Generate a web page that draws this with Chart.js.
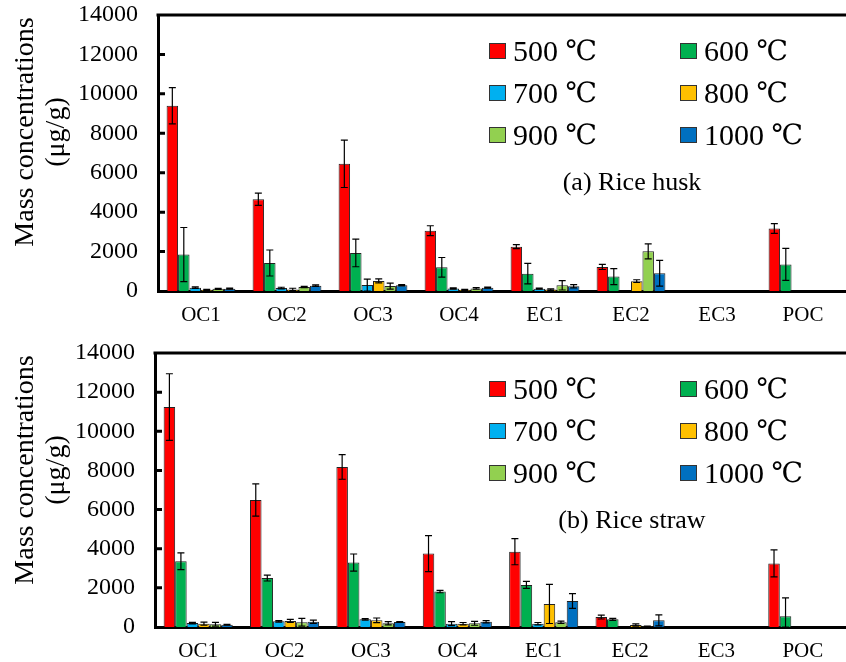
<!DOCTYPE html>
<html>
<head>
<meta charset="utf-8">
<script src="https://cdn.jsdelivr.net/npm/chart.js@4.4.0/dist/chart.umd.min.js"></script>
<style>
  html, body { margin: 0; padding: 0; background: #fff; }
  .panel { position: absolute; left: 0; width: 846px; height: 331px; }
</style>
</head>
<body>
<div class="panel" style="top:0"><canvas id="husk"></canvas></div>
<div class="panel" style="top:331px"><canvas id="straw"></canvas></div>
<script>
const categories = ['OC1', 'OC2', 'OC3', 'OC4', 'EC1', 'EC2', 'EC3', 'POC'];
const temps = ['500 ℃', '600 ℃', '700 ℃', '800 ℃', '900 ℃', '1000 ℃'];
const yTicks = [0, 2000, 4000, 6000, 8000, 10000, 12000, 14000];

// (a) Rice husk
const husk500 = [9400, 4650, 6450, 3060, 2250, 1220, 0, 3170];
const husk600 = [1850, 1420, 1930, 1200, 880, 730, 0, 1350];
const husk700 = [170, 150, 300, 130, 120, 0, 0, 0];
const husk800 = [60, 80, 510, 60, 70, 500, 0, 0];
const husk900 = [110, 200, 250, 130, 290, 2010, 0, 0];
const husk1000 = [120, 270, 290, 170, 240, 900, 0, 0];
const husk500Err = [920, 310, 1200, 250, 100, 130, 0, 250];
const husk600Err = [1370, 660, 700, 500, 520, 410, 0, 810];
const husk700Err = [40, 40, 300, 30, 30, 0, 0, 0];
const husk800Err = [30, 60, 100, 30, 40, 70, 0, 0];
const husk900Err = [30, 30, 150, 40, 240, 380, 0, 0];
const husk1000Err = [30, 40, 30, 30, 80, 650, 0, 0];

// (b) Rice straw
const straw500 = [11240, 6490, 8180, 3750, 3850, 510, 0, 3250];
const straw600 = [3360, 2500, 3290, 1810, 2150, 390, 0, 550];
const straw700 = [200, 290, 390, 170, 170, 0, 0, 0];
const straw800 = [170, 310, 340, 170, 1180, 100, 0, 0];
const straw900 = [140, 240, 190, 190, 240, 30, 0, 0];
const straw1000 = [120, 270, 250, 270, 1330, 340, 0, 0];
const straw500Err = [1700, 820, 630, 920, 670, 100, 0, 690];
const straw600Err = [430, 150, 440, 60, 180, 50, 0, 940];
const straw700Err = [40, 40, 40, 100, 60, 0, 0, 0];
const straw800Err = [80, 80, 120, 60, 1000, 60, 0, 0];
const straw900Err = [100, 200, 80, 100, 60, 20, 0, 0];
const straw1000Err = [20, 80, 20, 60, 380, 280, 0, 0];

const colors = ['#FF0000', '#00B050', '#00B0F0', '#FFC000', '#92D050', '#0070C0'];
const serif = "'Liberation Serif', 'Times New Roman', serif";
const degFont = "'DejaVu Serif', serif";

// error bars drawn on top of the bars
const errorBars = {
    id: 'errorBars',
    afterDatasetsDraw(chart) {
        const ctx = chart.ctx;
        const y = chart.scales.y;
        ctx.save();
        ctx.strokeStyle = '#000';
        ctx.lineWidth = 1.2;
        chart.data.datasets.forEach((ds, i) => {
            chart.getDatasetMeta(i).data.forEach((bar, j) => {
                const e = ds.errors[j];
                if (!e) return;
                const v = ds.data[j];
                const y1 = y.getPixelForValue(v + e);
                const y2 = y.getPixelForValue(Math.max(v - e, 0));
                ctx.beginPath();
                ctx.moveTo(bar.x, y1); ctx.lineTo(bar.x, y2);
                ctx.moveTo(bar.x - 3.5, y1); ctx.lineTo(bar.x + 3.5, y1);
                ctx.moveTo(bar.x - 3.5, y2); ctx.lineTo(bar.x + 3.5, y2);
                ctx.stroke();
            });
        });
        ctx.restore();
    }
};

function panelDecor(subtitle) {
    return {
        id: 'panelDecor',
        afterDraw(chart) {
            const ctx = chart.ctx;
            const a = chart.chartArea;
            const y = chart.scales.y;
            ctx.save();
            // top frame line and inward ticks
            ctx.strokeStyle = '#000';
            ctx.lineWidth = 3;
            ctx.beginPath();
            ctx.moveTo(a.left - 1.5, a.top); ctx.lineTo(a.right, a.top);
            y.ticks.forEach(t => {
                if (t.value <= 0 || t.value >= y.max) return;
                const py = y.getPixelForValue(t.value);
                ctx.moveTo(a.left, py); ctx.lineTo(a.left + 7, py);
            });
            ctx.stroke();

            // legend, 3 rows x 2 columns
            ctx.textBaseline = 'middle';
            ctx.textAlign = 'left';
            chart.data.datasets.forEach((ds, i) => {
                const col = i % 2, row = Math.floor(i / 2);
                const sx = col ? 680 : 489;
                const sy = a.top + 36 + row * 42;
                ctx.fillStyle = ds.backgroundColor;
                ctx.fillRect(sx, sy - 8, 17, 16);
                ctx.lineWidth = 1;
                ctx.strokeStyle = '#333';
                ctx.strokeRect(sx + 0.5, sy - 7.5, 16, 15);
                ctx.fillStyle = '#000';
                const [num, unit] = ds.label.split(' ');
                ctx.font = '30px ' + serif;
                const w = ctx.measureText(num + ' ').width;
                ctx.fillText(num + ' ', sx + 24, sy + 2);
                ctx.font = '28px ' + degFont;
                ctx.fillText(unit, sx + 24 + w, sy + 2);
            });

            // subtitle
            ctx.textAlign = 'center';
            ctx.font = '26px ' + serif;
            ctx.fillText(subtitle, 632, a.top + 168);

            // y axis title
            ctx.font = '28px ' + serif;
            const cy = a.top + 117;
            [['Mass concentrations', 26], ['(μg/g)', 57]].forEach(([txt, x]) => {
                ctx.save();
                ctx.translate(x, cy);
                ctx.rotate(-Math.PI / 2);
                ctx.fillText(txt, 0, 0);
                ctx.restore();
            });
            ctx.restore();
        }
    };
}

function makeChart(id, values, errors, subtitle, axisLeft, padTop, axisH) {
    new Chart(document.getElementById(id), {
        type: 'bar',
        data: {
            labels: categories,
            datasets: temps.map((t, i) => ({
                label: t,
                data: values[i],
                errors: errors[i],
                backgroundColor: colors[i],
                borderColor: '#222',
                borderWidth: 1,
                categoryPercentage: 0.8,
                barPercentage: 1.0
            }))
        },
        options: {
            responsive: true,
            maintainAspectRatio: false,
            animation: false,
            layout: { padding: { top: padTop, right: 0, left: 0, bottom: 0 } },
            plugins: {
                legend: { display: false },
                tooltip: { enabled: false }
            },
            scales: {
                x: {
                    grid: { display: false, drawTicks: false },
                    border: { color: '#000', width: 3 },
                    ticks: { color: '#000', font: { family: serif, size: 21 }, padding: 12 },
                    afterFit: s => { s.height = axisH; s.paddingLeft = 0; s.paddingRight = 0; }
                },
                y: {
                    min: 0,
                    max: 14000,
                    grid: { display: false, drawTicks: false },
                    border: { color: '#000', width: 3 },
                    afterBuildTicks: s => { s.ticks = yTicks.map(v => ({ value: v })); },
                    ticks: {
                        color: '#000',
                        font: { family: serif, size: 24 },
                        padding: 20,
                        callback: v => String(v)
                    },
                    afterFit: s => { s.width = axisLeft; s.paddingTop = 0; s.paddingBottom = 0; }
                }
            }
        },
        plugins: [errorBars, panelDecor(subtitle)]
    });
}

makeChart('husk',
    [husk500, husk600, husk700, husk800, husk900, husk1000],
    [husk500Err, husk600Err, husk700Err, husk800Err, husk900Err, husk1000Err],
    '(a) Rice husk', 158, 15, 40);

makeChart('straw',
    [straw500, straw600, straw700, straw800, straw900, straw1000],
    [straw500Err, straw600Err, straw700Err, straw800Err, straw900Err, straw1000Err],
    '(b) Rice straw', 155, 22, 35);
</script>
</body>
</html>
